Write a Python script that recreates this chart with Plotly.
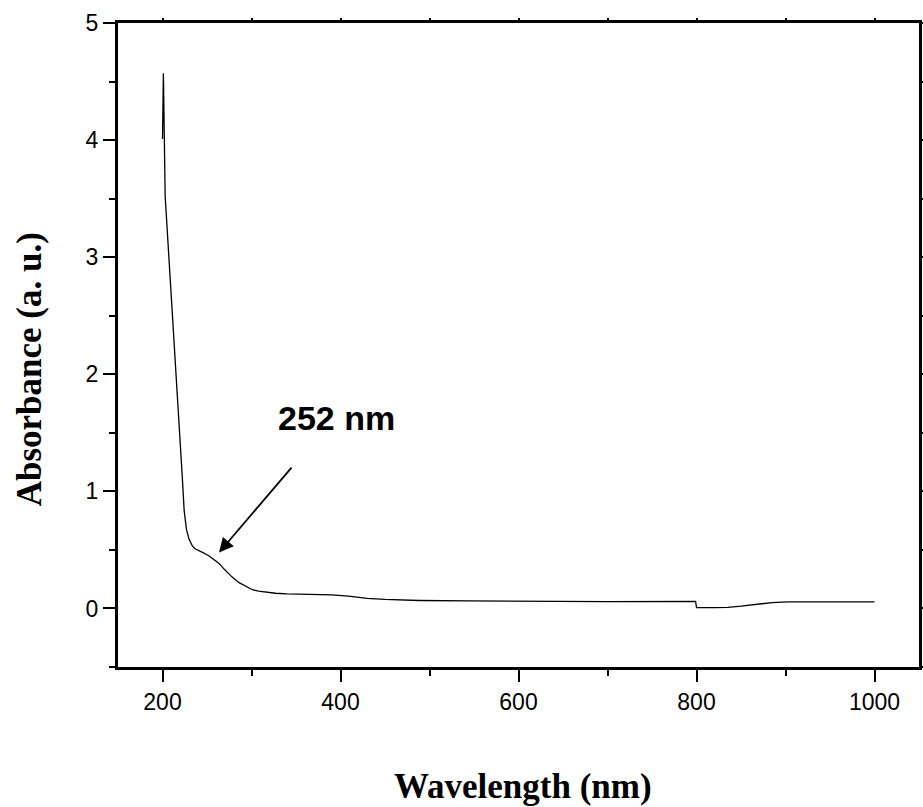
import plotly.graph_objects as go

# ---- data ----
wavelength = [200, 201, 203, 208, 212.8, 217, 222.4, 224.3, 226.9, 229.9, 233.6, 236, 241,
              246, 252, 256, 263.5, 270, 278, 286, 293, 301, 308, 316, 327, 340, 353,
              375, 390, 409, 430, 450, 488, 544, 600, 700, 799, 800, 820, 835, 850,
              870, 885, 902, 950, 1000]
absorbance = [4.01, 4.57, 3.52, 2.92, 2.32, 1.75, 1.10, 0.84, 0.675, 0.59, 0.534, 0.512, 0.49,
              0.474, 0.45, 0.425, 0.385, 0.33, 0.27, 0.22, 0.19, 0.16, 0.148, 0.14, 0.13, 0.125, 0.122,
              0.122, 0.116, 0.105, 0.086, 0.077, 0.068, 0.064, 0.061, 0.059, 0.06, 0.008, 0.007, 0.01, 0.02,
              0.038, 0.05, 0.056, 0.057, 0.057]

x_major = [200, 400, 600, 800, 1000]
y_major = [0, 1, 2, 3, 4, 5]

peak_label = "252 nm"
arrow_head = (263.5, 0.477)
arrow_tail = (346.4, 1.216)
label_pos = (395.6, 1.63)

SANS = "Arial, Liberation Sans, sans-serif"
SERIF = "Times New Roman, Liberation Serif, serif"

fig = go.Figure()
fig.add_trace(go.Scatter(x=wavelength, y=absorbance, mode="lines",
                         line=dict(color="black", width=1.3), showlegend=False,
                         hoverinfo="skip"))
# helper trace for the top / right axes
fig.add_trace(go.Scatter(x=[None], y=[None], xaxis="x2", yaxis="y2",
                         showlegend=False, hoverinfo="skip"))

fig.update_layout(
    width=923, height=807,
    margin=dict(l=118, r=2, t=23, b=140),
    paper_bgcolor="white", plot_bgcolor="white",
    font=dict(family=SANS, color="black", size=23),
    xaxis=dict(range=[150, 1050], tickvals=x_major, showline=True, linewidth=3,
               linecolor="black", ticks="outside", ticklen=12, tickwidth=2,
               tickcolor="black", showgrid=False, zeroline=False,
               tickfont=dict(family=SANS, size=23, color="black"),
               minor=dict(ticks="outside", ticklen=6, tickwidth=2, tickcolor="black",
                          tick0=0, dtick=100, showgrid=False)),
    yaxis=dict(range=[-0.5, 5], tickvals=y_major, showline=True, linewidth=3,
               linecolor="black", ticks="outside", ticklen=12, tickwidth=2,
               tickcolor="black", showgrid=False, zeroline=False,
               tickfont=dict(family=SANS, size=23, color="black"),
               minor=dict(ticks="outside", ticklen=6, tickwidth=2, tickcolor="black",
                          tick0=0, dtick=0.5, showgrid=False)),
    xaxis2=dict(range=[150, 1050], overlaying="x", side="top", showline=True,
                linewidth=2.5, linecolor="black", ticks="outside", ticklen=2,
                tickwidth=1.5, tickcolor="black", dtick=100, tick0=0,
                showticklabels=False, showgrid=False, zeroline=False),
    yaxis2=dict(range=[-0.5, 5], overlaying="y", side="right", showline=True,
                linewidth=2.5, linecolor="black", ticks="outside", ticklen=2,
                tickwidth=1.5, tickcolor="black", dtick=0.5, tick0=0,
                showticklabels=False, showgrid=False, zeroline=False),
)

fig.add_annotation(x=arrow_head[0], y=arrow_head[1], ax=arrow_tail[0], ay=arrow_tail[1],
                   xref="x", yref="y", axref="x", ayref="y", text="",
                   showarrow=True, arrowhead=2, arrowsize=1.6, arrowwidth=1.8,
                   arrowcolor="black")
fig.add_annotation(x=label_pos[0], y=label_pos[1], xref="x", yref="y",
                   text="<b>%s</b>" % peak_label, showarrow=False,
                   font=dict(family=SANS, size=34, color="black"))

fig.add_annotation(x=-0.1107, y=0.4627, xref="paper", yref="paper",
                   text="<b>Absorbance (a. u.)</b>", showarrow=False, textangle=-90,
                   xanchor="center", yanchor="middle",
                   font=dict(family=SERIF, size=35, color="black"))
fig.add_annotation(x=0.505, y=-0.1848, xref="paper", yref="paper",
                   text="<b>Wavelength (nm)</b>", showarrow=False,
                   xanchor="center", yanchor="middle",
                   font=dict(family=SERIF, size=35, color="black"))

fig.write_html("out.html")
